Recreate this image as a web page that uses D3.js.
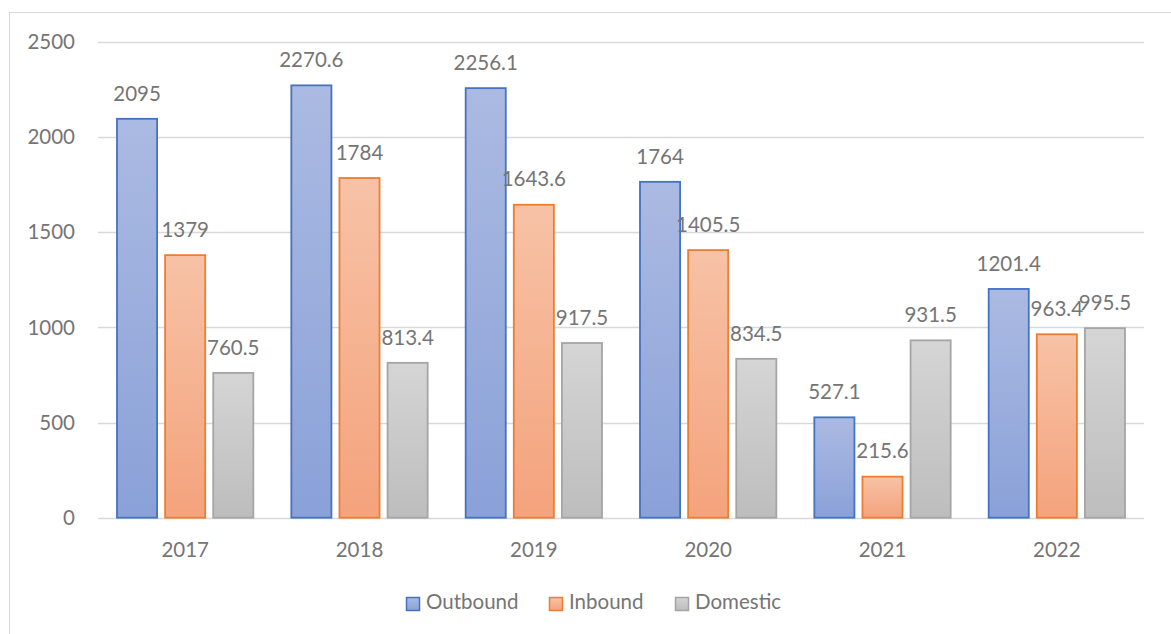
<!DOCTYPE html>
<html>
<head>
<meta charset="utf-8">
<script src="https://cdn.jsdelivr.net/npm/d3@7"></script>
<style>
  body { margin: 0; background: #fff; }
  svg { display: block; font-family: Lato, "Open Sans", sans-serif; }
</style>
</head>
<body>
<div id="chart"></div>
<script>
// data
var years = ["2017", "2018", "2019", "2020", "2021", "2022"];
var series = ["Outbound", "Inbound", "Domestic"];
var outbound = [2095, 2270.6, 2256.1, 1764, 527.1, 1201.4];
var inbound = [1379, 1784, 1643.6, 1405.5, 215.6, 963.4];
var domestic = [760.5, 813.4, 917.5, 834.5, 931.5, 995.5];
var yTicks = [0, 500, 1000, 1500, 2000, 2500];

var width = 1171, height = 634;
var margin = { top: 41.7, right: 27, bottom: 116.3, left: 98 };

var colors = {
    Outbound: { stroke: "#4472c4", top: "#abbae2", bottom: "#8aa1d8" },
    Inbound: { stroke: "#ed7d31", top: "#f7c2a6", bottom: "#f4a37c" },
    Domestic: { stroke: "#a5a5a5", top: "#d5d5d5", bottom: "#bdbdbd" }
};
var textColor = "#757575";

var values = { Outbound: outbound, Inbound: inbound, Domestic: domestic };

var svg = d3.select("#chart").append("svg")
    .attr("width", width)
    .attr("height", height);

// gradients, one per series, per bar box
var defs = svg.append("defs");
series.forEach(function (s) {
    var g = defs.append("linearGradient")
        .attr("id", "grad_" + s)
        .attr("x1", 0).attr("y1", 0).attr("x2", 0).attr("y2", 1);
    g.append("stop").attr("offset", "0%").attr("stop-color", colors[s].top);
    g.append("stop").attr("offset", "100%").attr("stop-color", colors[s].bottom);
});

// outer chart border
svg.append("rect")
    .attr("x", 9.5).attr("y", 12.5)
    .attr("width", width + 20).attr("height", height + 20)
    .attr("fill", "none")
    .attr("stroke", "#d9d9d9")
    .attr("stroke-width", 1);

var x0 = d3.scaleBand()
    .domain(years)
    .range([margin.left, width - margin.right])
    .padding(0);

var bw = x0.bandwidth();
var x1 = d3.scaleBand()
    .domain(series)
    .range([bw * 0.109, bw * 0.891])
    .paddingInner(1 / 6);

var y = d3.scaleLinear()
    .domain([0, 2500])
    .range([height - margin.bottom, margin.top]);

// gridlines
svg.append("g").selectAll("line")
    .data(yTicks)
    .enter().append("line")
    .attr("x1", margin.left)
    .attr("x2", width - margin.right)
    .attr("y1", function (d) { return Math.round(y(d)) + 0.5; })
    .attr("y2", function (d) { return Math.round(y(d)) + 0.5; })
    .attr("stroke", "#d9d9d9")
    .attr("stroke-width", 1.3);

// y axis labels
svg.append("g").selectAll("text")
    .data(yTicks)
    .enter().append("text")
    .attr("x", 75)
    .attr("y", function (d) { return y(d); })
    .attr("dy", "0.36em")
    .attr("text-anchor", "end")
    .attr("font-size", "20.5px")
    .attr("fill", textColor)
    .text(function (d) { return d; });

// x axis labels
svg.append("g").selectAll("text")
    .data(years)
    .enter().append("text")
    .attr("x", function (d) { return x0(d) + bw / 2; })
    .attr("y", 557)
    .attr("text-anchor", "middle")
    .attr("font-size", "20.5px")
    .attr("fill", textColor)
    .text(function (d) { return d; });

// bars
var rows = years.map(function (yr, i) {
    return {
        year: yr,
        items: series.map(function (s) { return { name: s, value: values[s][i] }; })
    };
});

var group = svg.append("g").selectAll("g")
    .data(rows)
    .enter().append("g")
    .attr("transform", function (d) { return "translate(" + x0(d.year) + ",0)"; });

group.selectAll("rect")
    .data(function (d) { return d.items; })
    .enter().append("rect")
    .attr("x", function (d) { return x1(d.name); })
    .attr("y", function (d) { return y(d.value); })
    .attr("width", x1.bandwidth())
    .attr("height", function (d) { return y(0) - y(d.value); })
    .attr("fill", function (d) { return "url(#grad_" + d.name + ")"; })
    .attr("stroke", function (d) { return colors[d.name].stroke; })
    .attr("stroke-width", 1.8);

group.selectAll("text")
    .data(function (d) { return d.items; })
    .enter().append("text")
    .attr("x", function (d) { return x1(d.name) + x1.bandwidth() / 2; })
    .attr("y", function (d) { return y(d.value) - 18.3; })
    .attr("text-anchor", "middle")
    .attr("font-size", "20.5px")
    .attr("fill", textColor)
    .text(function (d) { return d.value; });

// legend
var legendX = [406, 549, 675];
var legend = svg.append("g").selectAll("g")
    .data(series)
    .enter().append("g")
    .attr("transform", function (d, i) { return "translate(" + legendX[i] + ",597)"; });

legend.append("rect")
    .attr("x", 0.5).attr("y", 0.5)
    .attr("width", 13).attr("height", 13)
    .attr("fill", function (d) { return "url(#grad_" + d + ")"; })
    .attr("stroke", function (d) { return colors[d].stroke; })
    .attr("stroke-width", 1.5);

legend.append("text")
    .attr("x", 20)
    .attr("y", 12)
    .attr("font-size", "20.5px")
    .attr("fill", textColor)
    .text(function (d) { return d; });
</script>
</body>
</html>
